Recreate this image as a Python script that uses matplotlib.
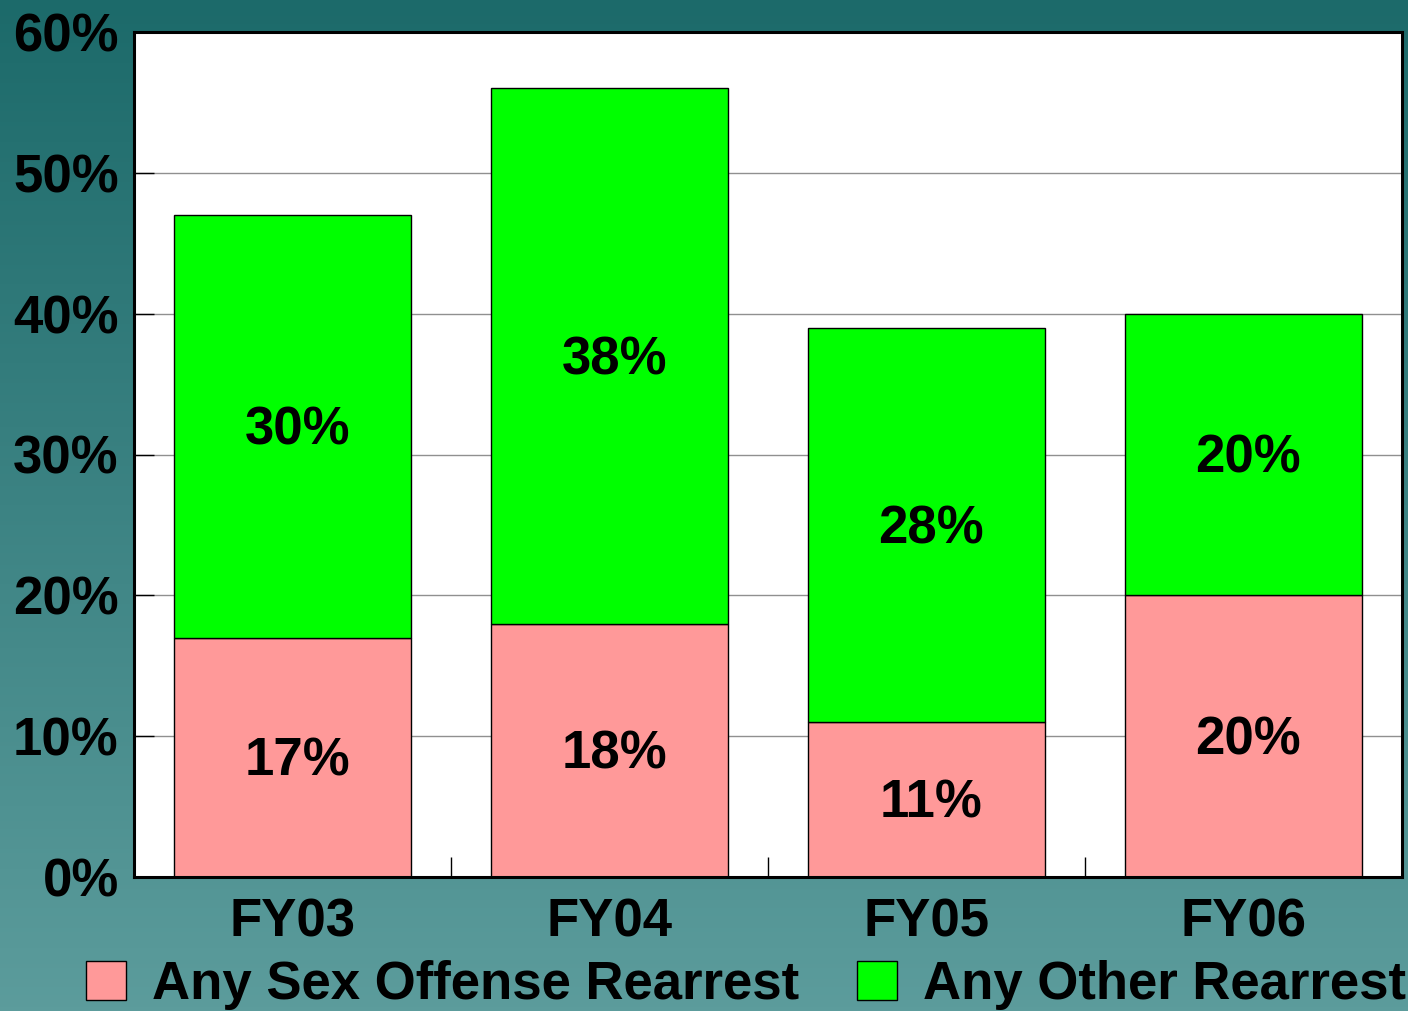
import numpy as np
import matplotlib
matplotlib.use("Agg")
import matplotlib.pyplot as plt
from matplotlib.patches import Patch
from matplotlib.ticker import FixedLocator
from matplotlib.transforms import offset_copy

categories = ["FY03", "FY04", "FY05", "FY06"]
sex_offense = [17, 18, 11, 20]
other = [30, 38, 28, 20]
series_names = ["Any Sex Offense Rearrest", "Any Other Rearrest"]
ytick_vals = [0, 10, 20, 30, 40, 50, 60]

plt.rcParams['font.family'] = ['Liberation Sans', 'DejaVu Sans']
plt.rcParams['font.weight'] = 'bold'

W, H = 1408, 1011
fig = plt.figure(figsize=(W / 100, H / 100), dpi=100)

# gradient background
bg = fig.add_axes([0, 0, 1, 1], zorder=-10)
top = np.array([28, 106, 106]) / 255
bot = np.array([92, 156, 156]) / 255
t = np.linspace(0, 1, 256)[:, None]
grad = top[None, None, :] * (1 - t[..., None]) + bot[None, None, :] * t[..., None]
grad = np.repeat(grad, 2, axis=1)
bg.imshow(grad, aspect='auto', extent=[0, 1, 0, 1])
bg.set_axis_off()

ax = fig.add_axes([134 / W, 1 - 877 / H, (1402 - 134) / W, (877 - 32) / H])
ax.set_facecolor('white')
x = np.arange(len(categories))
bw = 0.748
ax.bar(x, sex_offense, width=bw, color='#FF9999', edgecolor='black', linewidth=1, zorder=3)
ax.bar(x, other, width=bw, bottom=sex_offense, color='#00FF00', edgecolor='black', linewidth=1, zorder=3)

fs = 38
tr = offset_copy(ax.transData, fig=fig, x=0, y=-3, units='points')
for i in range(len(categories)):
    ax.text(x[i] + 0.015, sex_offense[i] / 2, f"{sex_offense[i]}%", ha='center', va='center',
            fontsize=fs, fontweight='bold', zorder=4, transform=tr)
    ax.text(x[i] + 0.015, sex_offense[i] + other[i] / 2, f"{other[i]}%", ha='center', va='center',
            fontsize=fs, fontweight='bold', zorder=4, transform=tr)

ax.set_xlim(-0.5, len(categories) - 0.5)
ax.set_ylim(0, 60)
ax.set_yticks(ytick_vals)
ax.set_yticklabels([f"{v}%" for v in ytick_vals], fontsize=fs, fontweight='bold')
ax.set_xticks(x)
ax.set_xticklabels(categories, fontsize=fs, fontweight='bold')
ax.xaxis.set_minor_locator(FixedLocator([0.5, 1.5, 2.5]))
ax.tick_params(axis='x', which='major', length=0, pad=15)
ax.tick_params(axis='x', which='minor', direction='in', length=14.5, width=1, color='black')
ax.tick_params(axis='y', which='major', direction='in', length=14.5, width=1, color='black', pad=11)
ax.grid(axis='y', color='#909090', linewidth=1, zorder=1)
ax.set_axisbelow(True)
for s in ax.spines.values():
    s.set_linewidth(2.2)
    s.set_color('black')
    s.set_zorder(5)

handles = [Patch(facecolor='#FF9999', edgecolor='black', linewidth=1),
           Patch(facecolor='#00FF00', edgecolor='black', linewidth=1)]
fig.legend(handles, series_names, loc='center', bbox_to_anchor=(0.530, 1 - 985 / H), ncol=2,
           frameon=False, prop={'size': fs, 'weight': 'bold'}, handlelength=0.75,
           handleheight=0.75, handletextpad=0.5, columnspacing=1.1, borderpad=0.0)

fig.savefig("out.png", dpi=100)
